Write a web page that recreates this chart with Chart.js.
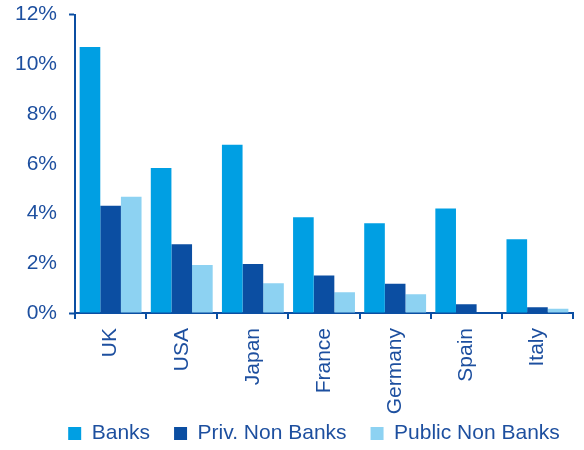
<!DOCTYPE html>
<html lang="en">
<head>
    <meta charset="UTF-8">
    <title>Exposure by Country</title>
    <script src="https://cdn.jsdelivr.net/npm/chart.js"></script>
    <style>
        body { margin: 0; background: #fff; }
        .wrap { width: 584px; height: 450px; }
    </style>
</head>
<body>
    <div class="wrap"><canvas id="chart"></canvas></div>
    <script>
        const countries = ['UK', 'USA', 'Japan', 'France', 'Germany', 'Spain', 'Italy'];
        const banks = [10.7, 5.83, 6.77, 3.85, 3.61, 4.2, 2.97];
        const privNonBanks = [4.31, 2.76, 1.97, 1.51, 1.18, 0.35, 0.23];
        const publicNonBanks = [4.67, 1.93, 1.2, 0.83, 0.75, 0, 0.17];

        const textBlue = '#1d4f9f';
        const axisBlue = '#0b4ea2';
        const font = { family: 'Arial, "Liberation Sans"', size: 21 };

        function series(label, data, color) {
            return {
                label: label,
                data: data,
                backgroundColor: color,
                borderWidth: 0,
                barPercentage: 1,
                categoryPercentage: 0.87
            };
        }

        // legend sits a bit right of centre; long country names may run into the legend's top padding
        const layoutTweaks = {
            id: 'layoutTweaks',
            afterLayout(chart) {
                chart.legend.left += 21;
                chart.legend.right += 21;
                chart.scales.x.bottom = chart.height;
            }
        };

        new Chart(document.getElementById('chart'), {
            type: 'bar',
            data: {
                labels: countries,
                datasets: [
                    series('Banks', banks, '#009fe3'),
                    series('Priv. Non Banks', privNonBanks, '#0b4ea2'),
                    series('Public Non Banks', publicNonBanks, '#8dd2f2')
                ]
            },
            plugins: [layoutTweaks],
            options: {
                responsive: true,
                maintainAspectRatio: false,
                animation: false,
                layout: { padding: { left: 13, right: 11, top: 0, bottom: -4 } },
                scales: {
                    x: {
                        grid: { display: true, drawOnChartArea: false, offset: true, tickLength: 6, color: axisBlue, lineWidth: 2 },
                        border: { color: axisBlue, width: 2 },
                        ticks: { color: textBlue, font: font, minRotation: 90, maxRotation: 90, padding: 9 },
                        afterFit: scale => { scale.height = 86; }
                    },
                    y: {
                        min: 0,
                        max: 12,
                        grid: {
                            display: true,
                            drawOnChartArea: false,
                            tickLength: 16,
                            tickWidth: 2,
                            // only the end ticks get a short stub next to the axis
                            tickColor: ctx => (ctx.tick && (ctx.tick.value === 0 || ctx.tick.value === 12)) ? axisBlue : 'rgba(0,0,0,0)',
                            tickBorderDash: [7, 10],
                            tickBorderDashOffset: 7
                        },
                        border: { color: axisBlue, width: 2 },
                        ticks: {
                            stepSize: 2,
                            padding: 2,
                            color: textBlue,
                            font: font,
                            callback: v => v + '%'
                        }
                    }
                },
                plugins: {
                    legend: {
                        position: 'bottom',
                        labels: {
                            boxWidth: 13,
                            boxHeight: 13,
                            padding: 24,
                            color: textBlue,
                            font: font
                        }
                    },
                    tooltip: { enabled: false }
                }
            }
        });
    </script>
</body>
</html>
